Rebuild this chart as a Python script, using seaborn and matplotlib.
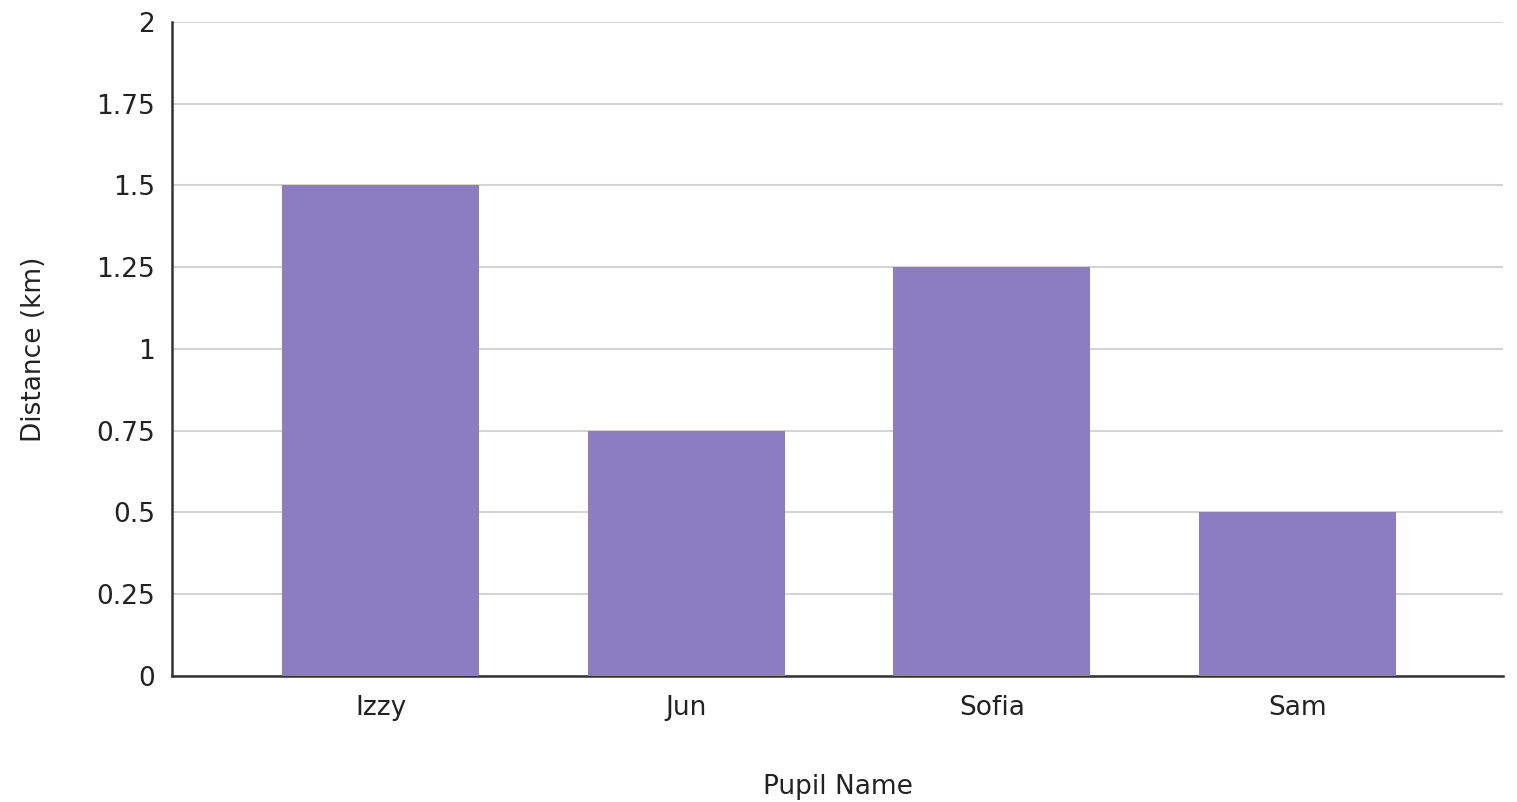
import pandas as pd
import seaborn as sns
from matplotlib import pyplot as plt

# Data
pupils = ["Izzy", "Jun", "Sofia", "Sam"]
distances = [1.5, 0.75, 1.25, 0.5]
y_ticks = [0, 0.25, 0.5, 0.75, 1, 1.25, 1.5, 1.75, 2]
y_tick_labels = ["0", "0.25", "0.5", "0.75", "1", "1.25", "1.5", "1.75", "2"]

df = pd.DataFrame({"Pupil Name": pupils, "Distance (km)": distances})

sns.set_style("white")
plt.rcParams['font.family'] = ['DejaVu Sans']

fig = plt.figure(figsize=(15.17, 8.02), dpi=100)
ax = fig.add_axes([0.1134, 0.1571, 0.8774, 0.8155])

sns.barplot(data=df, x="Pupil Name", y="Distance (km)", color="#8c7cc2",
            saturation=1, width=0.645, linewidth=0, ax=ax, zorder=3)

ax.set_xlim(-0.684, 3.674)
ax.set_ylim(0, 2)
ax.set_yticks(y_ticks)
ax.set_yticklabels(y_tick_labels)
ax.yaxis.grid(True, color="#d4d4d4", linewidth=1.5, zorder=0)
ax.set_axisbelow(True)

for side in ["top", "right"]:
    ax.spines[side].set_visible(False)
for side in ["left", "bottom"]:
    ax.spines[side].set_color("#333333")
    ax.spines[side].set_linewidth(1.8)

ax.tick_params(axis="both", length=0, labelsize=19, colors="#222222")
ax.tick_params(axis="y", pad=12)
ax.tick_params(axis="x", pad=14)
ax.set_xlabel("Pupil Name", fontsize=19, color="#222222", labelpad=38)
ax.set_ylabel("Distance (km)", fontsize=19, color="#222222", labelpad=36)

fig.savefig("out.png", dpi=100)
